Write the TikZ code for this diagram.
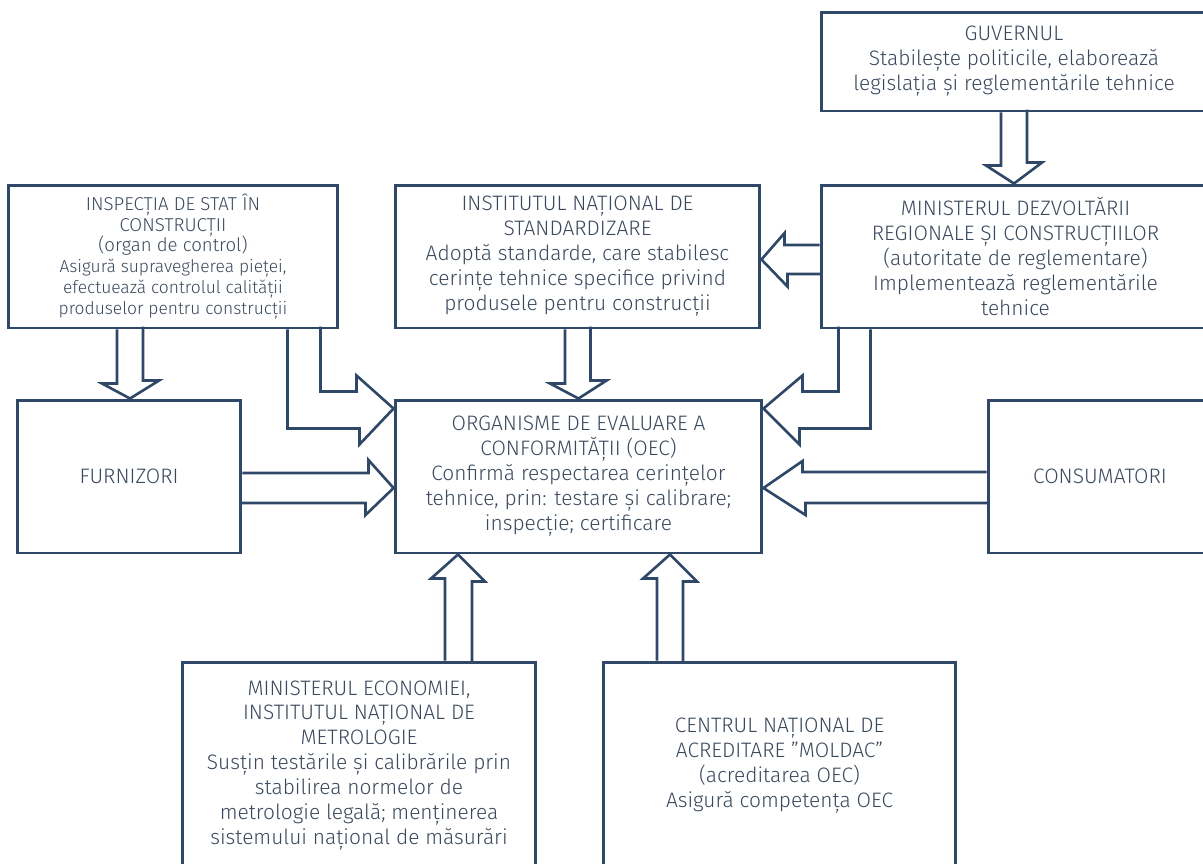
\documentclass[tikz,border=0pt]{standalone}
\usepackage{fontspec}
\setmainfont{Fira Sans}[UprightFont=* Light]
\usetikzlibrary{calc}
\definecolor{boxline}{RGB}{47,72,103}
\definecolor{boxtext}{RGB}{58,72,92}

\begin{document}
\begin{tikzpicture}[x = 0.02cm, y = -0.02cm,
    box/.style = {draw = boxline, line width = 1.7pt, text = boxtext, align = center, inner sep = 2pt,
                  font = \fontsize{11.9}{14.2}\selectfont},
    fat/.style = {draw = boxline, line width = 1.5pt, line join = miter}]
    \useasboundingbox (0,0) rectangle (1203,863);
    \clip (0,0) rectangle (1203,863);

    % boxes
    \node[box, minimum width = 7.72cm, minimum height = 1.98cm] (guv) at (1014,61.5)
        {GUVERNUL\\Stabilește politicile, elaborează\\legislația și reglementările tehnice};
    \node[box, minimum width = 7.78cm, minimum height = 2.86cm] (mdr) at (1015.5,256.5)
        {MINISTERUL DEZVOLTĂRII\\REGIONALE ȘI CONSTRUCȚIILOR\\(autoritate de reglementare)\\Implementează reglementările\\tehnice};
    \node[box, minimum width = 7.30cm, minimum height = 2.86cm] (ins) at (577.5,256.5)
        {INSTITUTUL NAȚIONAL DE\\STANDARDIZARE\\Adoptă standarde, care stabilesc\\cerințe tehnice specifice privind\\produsele pentru construcții};
    \node[box, minimum width = 6.60cm, minimum height = 2.86cm, font = \fontsize{10.6}{11.9}\selectfont] (isc) at (173,256.5)
        {INSPECȚIA DE STAT ÎN\\CONSTRUCȚII\\(organ de control)\\{\fontsize{9.9}{11.9}\selectfont Asigură supravegherea pieței,}\\
         {\fontsize{9.9}{11.9}\selectfont efectuează controlul calității}\\{\fontsize{9.9}{11.9}\selectfont produselor pentru construcții}};
    \node[box, minimum width = 4.48cm, minimum height = 3.06cm] (fur) at (129,476.5) {FURNIZORI};
    \node[box, minimum width = 7.34cm, minimum height = 3.06cm] (oec) at (578.5,476.5)
        {ORGANISME DE EVALUARE A\\CONFORMITĂȚII (OEC)\\Confirmă respectarea cerințelor\\tehnice, prin: testare și calibrare;\\inspecție; certificare};
    \node[box, minimum width = 4.48cm, minimum height = 3.06cm] (con) at (1100,476.5) {CONSUMATORI};
    \node[box, minimum width = 7.08cm, minimum height = 4.14cm] (mec) at (359,765.5)
        {MINISTERUL ECONOMIEI,\\INSTITUTUL NAȚIONAL DE\\METROLOGIE\\Susțin testările și calibrările prin\\stabilirea normelor de\\metrologie legală; menținerea\\sistemului național de măsurări};
    \node[box, minimum width = 7.06cm, minimum height = 4.14cm] (cen) at (779.5,765.5)
        {CENTRUL NAȚIONAL DE\\ACREDITARE ”MOLDAC”\\(acreditarea OEC)\\Asigură competența OEC};

    % block arrows
    \draw[fat] ($(guv.south)+(-13,0)$) -- ++(0,53) -- ++(-15,0) -- (guv.south |- mdr.north)
        -- ++(28,-21) -- ++(-15,0) -- ++(0,-53);
    \draw[fat] ($(mdr.west)+(0,-11.5)$) -- ++(-35,0) -- ++(0,-12) -- ($(ins.east)+(0,3)$)
        -- ++(26,27) -- ++(0,-12.5) -- ++(35,0);
    \draw[fat] ($(isc.south)+(-56,0)$) -- ++(0,54) -- ++(-15,0) -- ($(fur.north)+(1,0)$)
        -- ++(29,-18) -- ++(-16,0) -- ++(0,-54);
    \draw[fat] ($(ins.south)+(-12.5,0)$) -- ++(0,54) -- ++(-15,0) -- (oec.north)
        -- ++(28,-18) -- ++(-16,0) -- ++(0,-54);
    \draw[fat] ($(fur.east)+(0,-3.5)$) -- ++(126,0) -- ++(0,-13) -- ($(oec.west)+(0,11.5)$)
        -- ++(-28,27) -- ++(0,-12) -- ++(-126,0);
    \draw[fat] ($(con.west)+(0,-4.5)$) -- ++(-184,0) -- ++(0,-11) -- ($(oec.east)+(0,11.5)$)
        -- ++(42,27) -- ++(0,-12) -- ++(184,0);
    \draw[fat] ($(mec.north)+(86,0)$) -- ++(0,-82) -- ++(-14,0) -- ($(oec.south)+(-120.5,0)$)
        -- ++(27,27) -- ++(-13,0) -- ++(0,82);
    \draw[fat] ($(cen.north)+(-122.5,0)$) -- ++(0,-82) -- ++(-14,0) -- ($(oec.south)+(91.5,0)$)
        -- ++(27,27) -- ++(-14,0) -- ++(0,82);
    % bent arrows
    \draw[fat] ($(isc.south east)+(-52,0)$) -- ++(0,99) -- ++(72,0) -- ++(0,16) -- ($(oec.north west)+(0,10)$)
        -- ++(-37,-33) -- ++(0,16) -- ++(-36,0) -- ++(0,-65);
    \draw[fat] ($(mdr.south west)+(51,0)$) -- ++(0,99) -- ++(-71,0) -- ++(0,16) -- ($(oec.north east)+(0,10)$)
        -- ++(39,-33) -- ++(0,16) -- ++(36,0) -- ++(0,-65);
\end{tikzpicture}
\end{document}
